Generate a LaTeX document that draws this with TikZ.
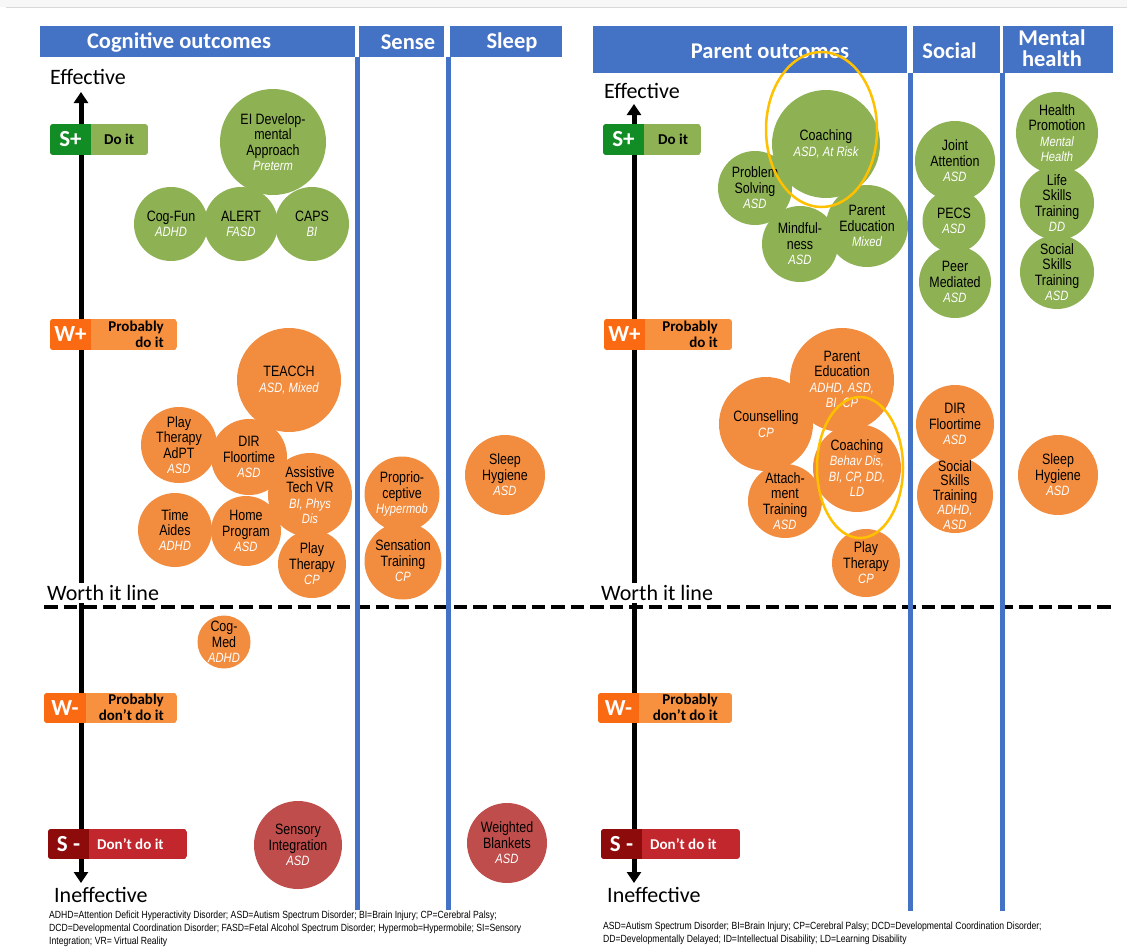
\documentclass[tikz,border=0pt]{standalone}
\usepackage{fontspec}
\setmainfont{Carlito}
\newfontfamily\cf[FakeStretch=0.83]{Liberation Sans}
\usetikzlibrary{arrows.meta,shapes.geometric}
\definecolor{cblue}{HTML}{4472C4}
\definecolor{cgreen}{HTML}{8DB153}
\definecolor{corange}{HTML}{F28C3F}
\definecolor{cred}{HTML}{BE4D4B}
\definecolor{sgdark}{HTML}{128C24}
\definecolor{sglight}{HTML}{8DB153}
\definecolor{wdark}{HTML}{FA6A12}
\definecolor{wlight}{HTML}{F8913F}
\definecolor{sdark}{HTML}{8E0B0B}
\definecolor{slight}{HTML}{C1272D}
\definecolor{hlyellow}{HTML}{FFC000}
\newcommand\subtx[1]{{\color{white}\itshape\fontsize{13.5}{15.4}\selectfont #1}}
\newcommand\badgebox[7]{%
  \begin{scope}
    \clip[rounded corners=3pt] (#1,#2) rectangle (#4,#5);
    \fill[#7] (#1,#2) rectangle (#4,#5);
    \fill[#6] (#1,#2) rectangle (#3,#5);
  \end{scope}}
\tikzset{
  bub/.style={circle, inner sep=0pt, draw=none, minimum size=#1pt},
  gb/.style={bub=#1, fill=cgreen},
  ob/.style={bub=#1, fill=corange},
  rb/.style={bub=#1, fill=cred},
  ct/.style={align=center, inner sep=0pt, font=\cf\fontsize{15}{15.4}\selectfont},
  bartext/.style={inner sep=0pt, text=white, font=\bfseries\fontsize{22.5}{21}\selectfont, align=center},
  bigsym/.style={inner sep=0pt, text=white, font=\bfseries\fontsize{23}{23}\selectfont},
  badgetext/.style={inner sep=0pt, font=\bfseries\fontsize{15}{16}\selectfont},
  axlabel/.style={inner sep=0pt, anchor=west, font=\fontsize{22}{24}\selectfont},
  worthlabel/.style={axlabel, fill=white, inner ysep=2pt},
  axisline/.style={line width=5pt, {Triangle[width=14pt,length=11pt]}-{Triangle[width=14pt,length=11pt]}},
  vline/.style={cblue, line width=5pt},
  hlring/.style={ellipse, draw=hlyellow, line width=2.5pt, inner sep=0pt},
  foot/.style={inner sep=0pt, anchor=north west, align=left, font=\cf\fontsize{10.4}{12.7}\selectfont},
}
\begin{document}
\begin{tikzpicture}[x=1pt,y=-1pt]
\useasboundingbox (0,0) rectangle (1127,951);
\fill[white] (0,0) rectangle (1127,951);
\fill[black!3] (0,0) rectangle (1127,7);
\coordinate (gl) at (6,7.5);
\coordinate (gr) at (1127,7.5);
\draw[black!15, line width=1.5pt] (gl) -- (gr);

% worth-it line
\coordinate (dl) at (44,607);
\coordinate (dr) at (1115,607);
\draw[line width=4pt, dash pattern=on 13.5pt off 6pt] (dl) -- (dr);

% axes
\coordinate (lbot) at (81,883);
\coordinate (ltop) at (81,92);
\draw[axisline] (lbot) -- (ltop);
\coordinate (rbot) at (634,883);
\coordinate (rtop) at (634,104);
\draw[axisline] (rbot) -- (rtop);

% title bars
\fill[cblue] (40,26) rectangle (355,57);
\fill[cblue] (359,26) rectangle (444,57);
\fill[cblue] (450,26) rectangle (562,57);
\fill[cblue] (593,26) rectangle (907,73);
\fill[cblue] (913,26) rectangle (1000,73);
\fill[cblue] (1003,26) rectangle (1113,73);
\node[bartext] (tcog) at (179,42) {Cognitive outcomes};
\node[bartext] (tsense) at (408,42) {Sense};
\node[bartext] (tsleep) at (512,42) {Sleep};
\node[bartext] (tpar) at (770,51) {Parent outcomes};
\node[bartext] (tsoc) at (949.5,51) {Social};
\node[bartext] (tment) at (1052,48) {Mental\\health};

% column lines
\coordinate (v1a) at (357.5,57);  \coordinate (v1b) at (357.5,910);
\coordinate (v2a) at (448,57);    \coordinate (v2b) at (448,910);
\coordinate (v3a) at (910,73);    \coordinate (v3b) at (910,911);
\coordinate (v4a) at (1002,73);   \coordinate (v4b) at (1002,911);
\draw[vline] (v1a) -- (v1b);
\draw[vline] (v2a) -- (v2b);
\draw[vline] (v3a) -- (v3b);
\draw[vline] (v4a) -- (v4b);

% axis labels
\node[axlabel] (leff) at (50,77) {Effective};
\node[worthlabel] (lwor) at (47,593) {Worth it line};
\node[axlabel] (linef) at (54,895) {Ineffective};
\node[axlabel] (reff) at (604,91) {Effective};
\node[worthlabel] (rwor) at (601,593) {Worth it line};
\node[axlabel] (rinef) at (607,895) {Ineffective};

% badges left
\badgebox{50}{124}{91}{148}{155}{sgdark}{sglight}
\node[bigsym] (lsp) at (70.5,139.5) {S+};
\node[badgetext, anchor=west] (lspt) at (104,139.5) {Do it};
\badgebox{50}{319}{91}{177}{350}{wdark}{wlight}
\node[bigsym] (lwp) at (70.5,334.5) {W+};
\node[badgetext, anchor=east, align=right] (lwpt) at (164,334.5) {Probably\\do it};
\badgebox{44}{693}{86}{177}{723}{wdark}{wlight}
\node[bigsym] (lwm) at (65,708) {W-};
\node[badgetext, anchor=east, align=right] (lwmt) at (164,707.5) {Probably\\don’t do it};
\badgebox{48}{829}{89}{187}{859}{sdark}{slight}
\node[bigsym] (lsm) at (68.5,844) {S -};
\node[badgetext, anchor=west, text=white] (lsmt) at (97,844) {Don’t do it};

% badges right
\badgebox{603}{124}{644}{701}{155}{sgdark}{sglight}
\node[bigsym] (rsp) at (623.5,139.5) {S+};
\node[badgetext, anchor=west] (rspt) at (658,139.5) {Do it};
\badgebox{604}{319}{645}{732}{350}{wdark}{wlight}
\node[bigsym] (rwp) at (624.5,334.5) {W+};
\node[badgetext, anchor=east, align=right] (rwpt) at (718,334.5) {Probably\\do it};
\badgebox{598}{693}{639}{732}{723}{wdark}{wlight}
\node[bigsym] (rwm) at (618.5,708) {W-};
\node[badgetext, anchor=east, align=right] (rwmt) at (718,707.5) {Probably\\don’t do it};
\badgebox{601}{829}{642}{740}{859}{sdark}{slight}
\node[bigsym] (rsm) at (621.5,844) {S -};
\node[badgetext, anchor=west, text=white] (rsmt) at (650,844) {Don’t do it};

% ---------- left: cognitive, green ----------
\node[gb=106] (ei) at (273,142) {};
\node[ct] (eit) at (ei) {EI Develop-\\mental\\Approach\\\subtx{Preterm}};
\node[gb=74] (cogfun) at (171,224) {};
\node[ct] (cogfunt) at (cogfun) {Cog-Fun\\\subtx{ADHD}};
\node[gb=74] (alert) at (241,224) {};
\node[ct] (alertt) at (alert) {ALERT\\\subtx{FASD}};
\node[gb=74] (caps) at (312,224) {};
\node[ct] (capst) at (caps) {CAPS\\\subtx{BI}};

% left orange
\node[ob=104] (teacch) at (289,380) {};
\node[ct] (teaccht) at (teacch) {TEACCH\\\subtx{ASD, Mixed}};
\node[ob=76] (playa) at (179,445) {};
\node[ct] (playat) at (playa) {Play\\Therapy\\AdPT\\\subtx{ASD}};
\node[ob=76] (dir) at (249,457) {};
\node[ct] (dirt) at (dir) {DIR\\Floortime\\\subtx{ASD}};
\node[ob=74] (time) at (175,530) {};
\node[ct] (timet) at (time) {Time\\Aides\\\subtx{ADHD}};
\node[ob=70] (home) at (246,531) {};
\node[ct] (homet) at (home) {Home\\Program\\\subtx{ASD}};
\node[ob=84] (assist) at (310,495) {};
\node[ct] (assistt) at (assist) {Assistive\\Tech VR\\\subtx{BI, Phys}\\\subtx{Dis}};
\node[ob=68] (playcp) at (312,564) {};
\node[ct] (playcpt) at (playcp) {Play\\Therapy\\\subtx{CP}};
\node[ob=75] (prop) at (402,494) {};
\node[ct] (propt) at (prop) {Proprio-\\ceptive\\\subtx{Hypermob}};
\node[ob=77] (sens) at (403,561) {};
\node[ct] (senst) at (sens) {Sensation\\Training\\\subtx{CP}};
\node[ob=80] (sleepa) at (505,475) {};
\node[ct] (sleepat) at (sleepa) {Sleep\\Hygiene\\\subtx{ASD}};
\node[ob=53] (cogmed) at (224,642) {};
\node[ct] (cogmedt) at (cogmed) {Cog-\\Med\\\subtx{ADHD}};

% left red
\node[rb=88] (sensint) at (298,845) {};
\node[ct] (sensintt) at (sensint) {Sensory\\Integration\\\subtx{ASD}};
\node[rb=80] (weighted) at (507,843) {};
\node[ct] (weightedt) at (weighted) {Weighted\\Blankets\\\subtx{ASD}};

% ---------- right: parent, green ----------
\node[gb=74] (prob) at (755,188) {};
\node[ct] (probt) at (prob) {Problem\\Solving\\\subtx{ASD}};
\node[gb=76] (mind) at (800,244) {};
\node[ct] (mindt) at (mind) {Mindful-\\ness\\\subtx{ASD}};
\node[gb=82] (peduc) at (867,226) {};
\node[ct] (peduct) at (peduc) {Parent\\Education\\\subtx{Mixed}};
\node[gb=108] (coach) at (826,144) {};
\node[ct] (coacht) at (coach) {Coaching\\\subtx{ASD, At Risk}};

\node[gb=80] (joint) at (955,161) {};
\node[ct] (jointt) at (joint) {Joint\\Attention\\\subtx{ASD}};
\node[gb=63] (pecs) at (954,221) {};
\node[ct] (pecst) at (pecs) {PECS\\\subtx{ASD}};
\node[gb=72] (peer) at (955,282) {};
\node[ct] (peert) at (peer) {Peer\\Mediated\\\subtx{ASD}};

\node[gb=82] (health) at (1057,133) {};
\node[ct] (healtht) at (health) {Health\\Promotion\\\subtx{Mental}\\\subtx{Health}};
\node[gb=74] (life) at (1057,203) {};
\node[ct] (lifet) at (life) {Life\\Skills\\Training\\\subtx{DD}};
\node[gb=74] (socsk) at (1057,272) {};
\node[ct] (socskt) at (socsk) {Social\\Skills\\Training\\\subtx{ASD}};

% right orange
\node[ob=104] (pedub) at (842,380) {};
\node[ct] (pedubt) at (pedub) {Parent\\Education\\\subtx{ADHD, ASD,}\\\subtx{BI, CP}};
\node[ob=94] (counsel) at (766,424) {};
\node[ct] (counselt) at (counsel) {Counselling\\\subtx{CP}};
\node[ob=74] (attach) at (785,501) {};
\node[ct] (attacht) at (attach) {Attach-\\ment\\Training\\\subtx{ASD}};
\node[ob=88] (coachb) at (857,468) {};
\node[ct] (coachbt) at (coachb) {Coaching\\\subtx{Behav Dis,}\\\subtx{BI, CP, DD,}\\\subtx{LD}};
\node[ob=68] (playcpb) at (866,563) {};
\node[ct] (playcpbt) at (playcpb) {Play\\Therapy\\\subtx{CP}};
\node[ob=78] (dirb) at (955,424) {};
\node[ct] (dirbt) at (dirb) {DIR\\Floortime\\\subtx{ASD}};
\node[ob=76] (socskb) at (955,495) {};
\node[ct, font=\cf\fontsize{15}{14.5}\selectfont] (socskbt) at (socskb) {Social\\Skills\\Training\\\subtx{ADHD,}\\\subtx{ASD}};
\node[ob=80] (sleepb) at (1058,475) {};
\node[ct] (sleepbt) at (sleepb) {Sleep\\Hygiene\\\subtx{ASD}};

% highlight rings
\node[hlring, minimum width=111pt, minimum height=155pt] (ring1) at (821.5,129.5) {};
\node[hlring, minimum width=86pt, minimum height=141pt] (ring2) at (860,467.5) {};

% footnotes
\node[foot] (footl) at (49,911) {ADHD=Attention Deficit Hyperactivity Disorder; ASD=Autism Spectrum Disorder; BI=Brain Injury; CP=Cerebral Palsy;\\DCD=Developmental Coordination Disorder; FASD=Fetal Alcohol Spectrum Disorder; Hypermob=Hypermobile; SI=Sensory\\Integration; VR= Virtual Reality};
\node[foot] (footr) at (603,922) {ASD=Autism Spectrum Disorder; BI=Brain Injury; CP=Cerebral Palsy; DCD=Developmental Coordination Disorder;\\DD=Developmentally Delayed; ID=Intellectual Disability; LD=Learning Disability};
\end{tikzpicture}
\end{document}
